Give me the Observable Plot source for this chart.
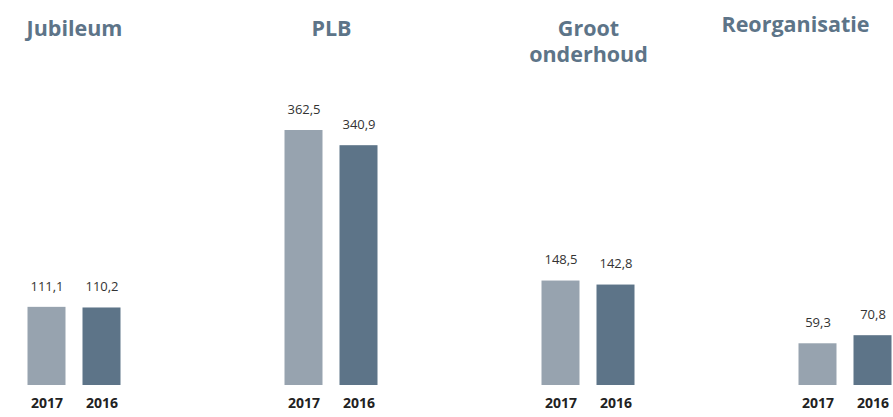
<!DOCTYPE html>
<html><head><meta charset="utf-8">
<script src="https://cdn.jsdelivr.net/npm/d3@7"></script>
<script src="https://cdn.jsdelivr.net/npm/@observablehq/plot@0.6"></script>
<style>body{margin:0;background:#fff;}</style>
</head><body><div id="chart"></div>
<script>
const groups = ["Jubileum", "PLB", "Groot onderhoud", "Reorganisatie"];
const groupTitles = ["Jubileum", "PLB", "Groot\nonderhoud", "Reorganisatie"];
const years = ["2017", "2016"];
const values2017 = [111.1, 362.5, 148.5, 59.3];
const values2016 = [110.2, 340.9, 142.8, 70.8];

const data = groups.flatMap((g, i) => [
  {group: g, year: "2017", value: values2017[i]},
  {group: g, year: "2016", value: values2016[i]}
]);
const titles = groups.map((g, i) => ({group: g, title: groupTitles[i]}));
const fmt = v => v.toFixed(1).replace(".", ",");

const chart = Plot.plot({
  width: 893, height: 417,
  marginLeft: 18.5, marginRight: -6.5, marginTop: 0, marginBottom: 32,
  style: {fontFamily: "'Open Sans', sans-serif", background: "#fff", overflow: "hidden"},
  fx: {domain: groups, paddingInner: 0.572, paddingOuter: 0, axis: null},
  x: {domain: years, paddingInner: 0.309, paddingOuter: 0.1545, axis: null},
  y: {domain: [0, 547.3], axis: null},
  color: {domain: years, range: ["#97a3af", "#5d7488"]},
  marks: [
    Plot.barY(data, {fx: "group", x: "year", y: "value", fill: "year"}),
    Plot.text(data, {fx: "group", x: "year", y: "value", text: d => fmt(d.value), dy: -21, fontSize: 13, fill: "#333"}),
    Plot.text(data, {fx: "group", x: "year", text: "year", frameAnchor: "bottom", dy: 22, fontWeight: "bold", fontSize: 14, fill: "#222"}),
    Plot.text(titles.filter(d => d.group !== "Reorganisatie"), {fx: "group", text: "title", frameAnchor: "top", lineAnchor: "top", dy: 16, lineHeight: 1.25, fontWeight: "bold", fontSize: 21.5, fill: "#5d7488"}),
    Plot.text(titles.filter(d => d.group === "Reorganisatie"), {fx: "group", text: "title", frameAnchor: "top", lineAnchor: "top", dy: 16, dx: -50, fontWeight: "bold", fontSize: 21.5, fill: "#5d7488"})
  ]
});
document.getElementById("chart").appendChild(chart);
</script>
</body></html>
